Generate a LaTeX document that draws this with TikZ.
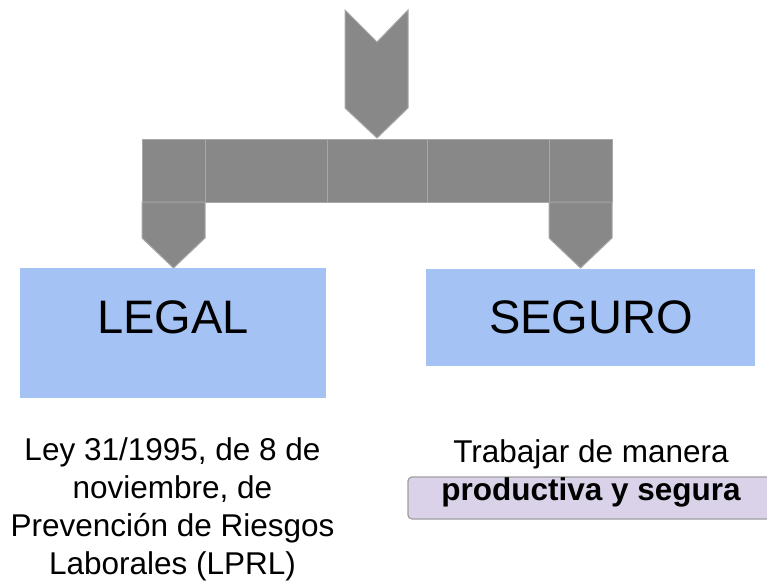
\documentclass[tikz,border=0pt]{standalone}
\usepackage{fontspec}
\setmainfont{Liberation Sans}
\definecolor{arrowgray}{HTML}{888888}
\definecolor{edgegray}{HTML}{A8A8A8}
\definecolor{boxblue}{HTML}{A4C2F4}
\definecolor{lavender}{HTML}{D9D2E9}
\definecolor{lavedge}{HTML}{9E9E9E}
\tikzset{
  part/.style={fill=arrowgray, draw=edgegray, line width=1pt, line join=miter},
  bluebox/.style={fill=boxblue, draw=none, inner sep=0pt},
  bigtext/.style={font=\fontsize{47}{50}\selectfont, inner sep=0pt},
  bodytext/.style={font=\fontsize{31.5}{38}\selectfont, align=center, inner sep=0pt},
}
\begin{document}
\begin{tikzpicture}[x=1pt,y=-1pt]
\useasboundingbox (0,0) rectangle (767,581);
% top chevron arrow
\draw[part] (345,10) -- (377,42) -- (408,10) -- (408,108) -- (377,138) -- (345,108) -- cycle;
% bar segments
\draw[part] (142,139) rectangle (205,202);
\draw[part] (205,139) rectangle (327,202);
\draw[part] (327,139) rectangle (427,202);
\draw[part] (427,139) rectangle (549,202);
\draw[part] (549,139) rectangle (612,202);
% down arrows
\draw[part] (142,202) -- (205,202) -- (205,238) -- (173.5,268) -- (142,238) -- cycle;
\draw[part] (549,202) -- (612,202) -- (612,238) -- (580.5,268) -- (549,238) -- cycle;
% boxes
\node[bluebox, minimum width=306pt, minimum height=130pt] (legal) at (173,333) {};
\node[bluebox, minimum width=329pt, minimum height=97pt] (seguro) at (590.5,317.5) {};
\node[bigtext, anchor=base] (legalt) at (173,333) {LEGAL};
\node[bigtext, anchor=base] (segurot) at (591,333) {SEGURO};
% lower texts
\node[bodytext, anchor=north] (ley) at (172.5,437) {Ley 31/1995, de 8 de\\noviembre, de\\Prevención de Riesgos\\Laborales (LPRL)};
\node[fill=lavender, draw=lavedge, line width=1.2pt, rounded corners=4pt, minimum width=372pt, minimum height=42pt, inner sep=0pt] (hl) at (594,498) {};
\node[font=\fontsize{31.5}{38}\selectfont, inner sep=0pt, anchor=base] (trab) at (591,462) {Trabajar de manera};
\node[font=\fontsize{31.5}{38}\selectfont\bfseries, inner sep=0pt, anchor=base] (prod) at (591,500) {productiva y segura};
\end{tikzpicture}
\end{document}
